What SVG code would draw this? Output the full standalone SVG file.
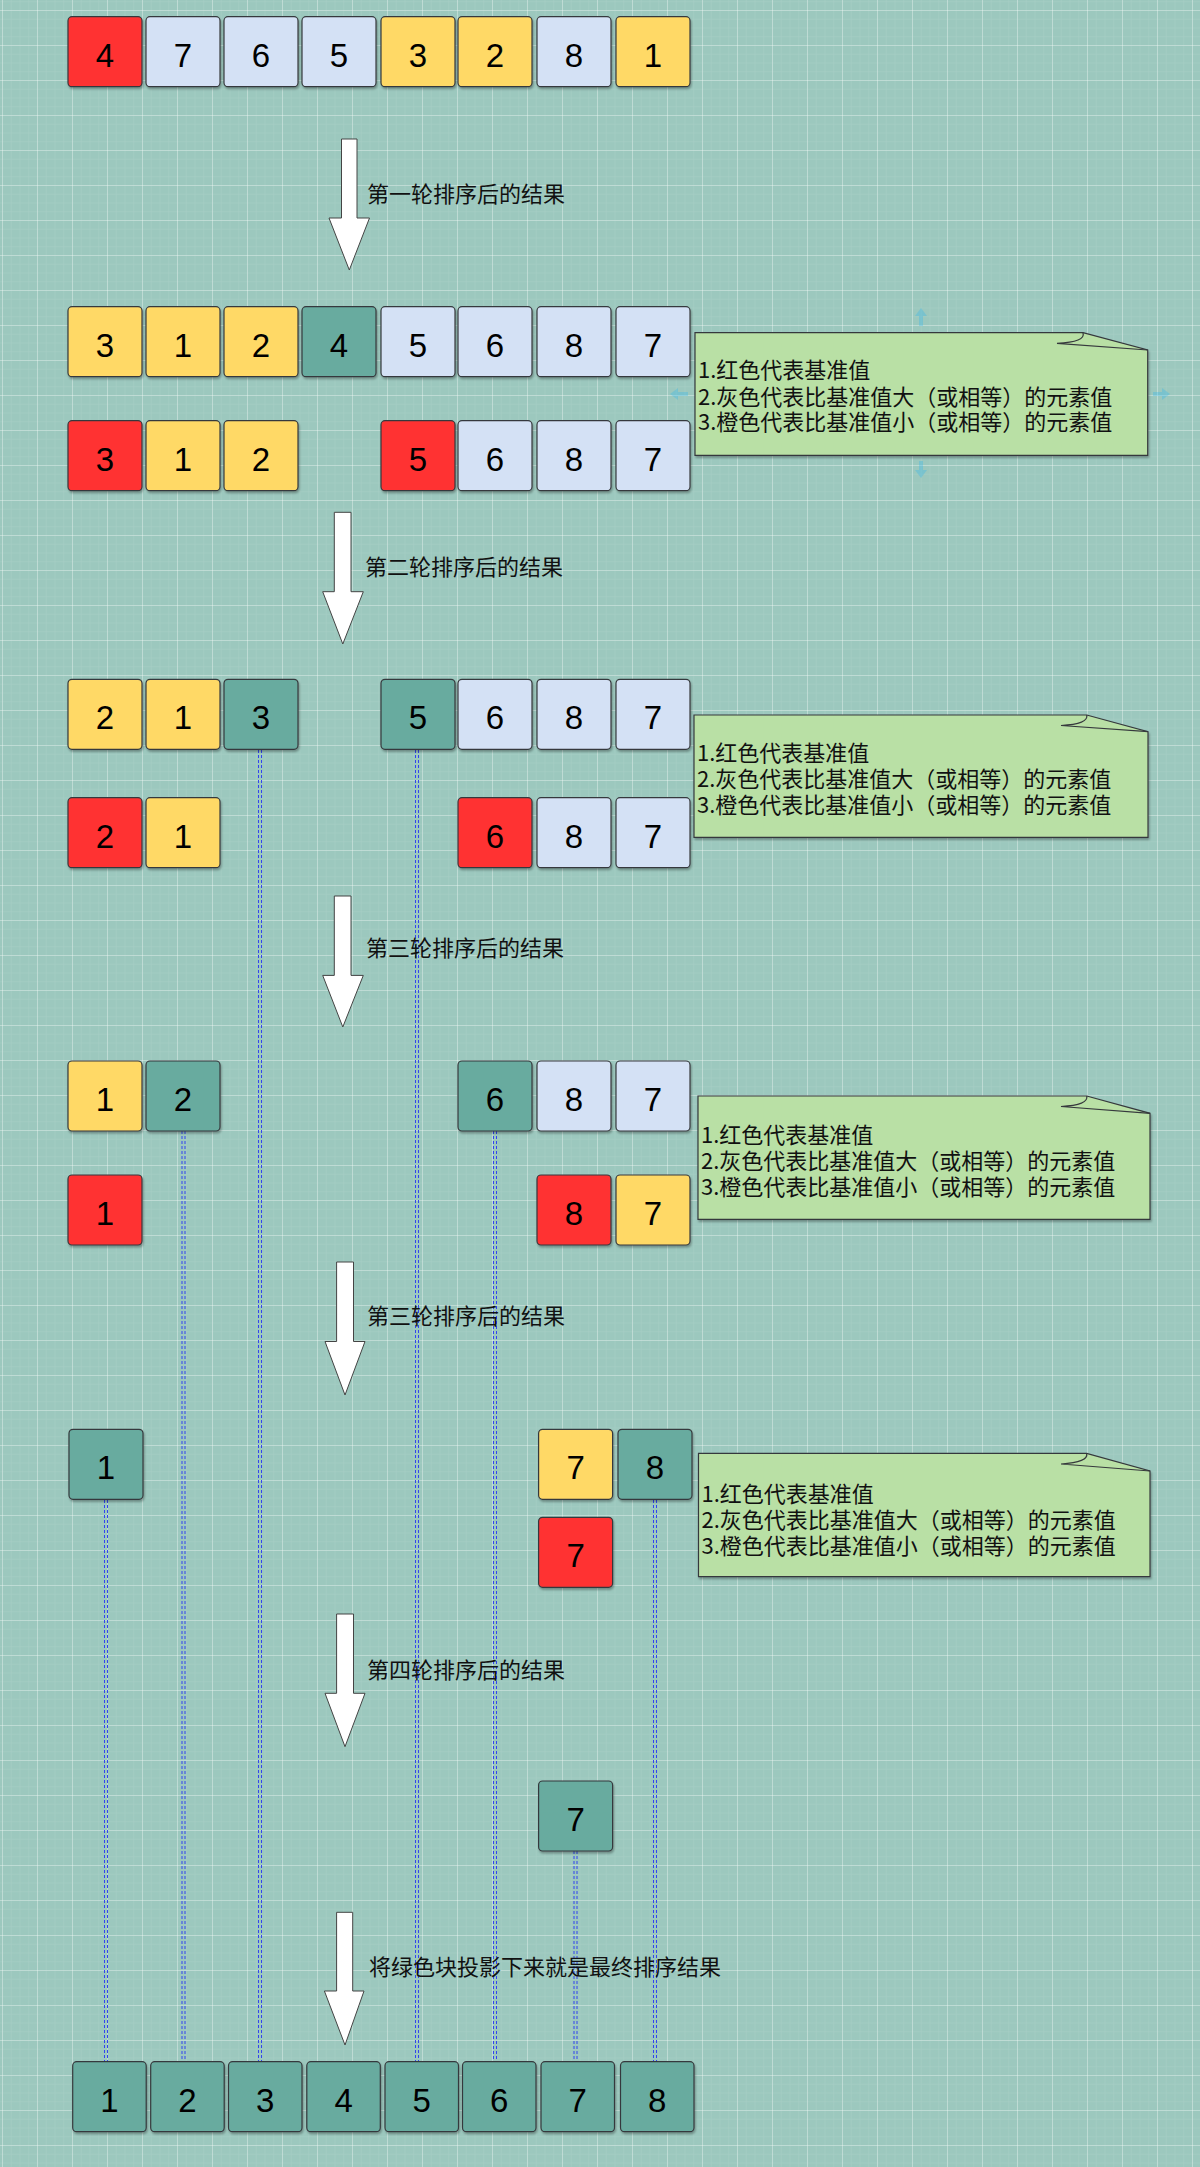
<svg xmlns="http://www.w3.org/2000/svg" width="1200" height="2167" viewBox="0 0 1200 2167">
<defs>
<pattern id="minor" x="2" y="10" width="8.75" height="8.75" patternUnits="userSpaceOnUse">
<path d="M0,0H8.75M0,0V8.75" fill="none" stroke="#ffffff" stroke-opacity="0.12" stroke-width="1"/>
</pattern>
<pattern id="major" x="2" y="10" width="35" height="35" patternUnits="userSpaceOnUse">
<path d="M0,0.5H35M0.5,0V35" fill="none" stroke="#ffffff" stroke-opacity="0.3" stroke-width="1"/>
</pattern>
<filter id="sh" x="-10%" y="-10%" width="130%" height="130%">
<feDropShadow dx="1" dy="2" stdDeviation="1" flood-color="#000" flood-opacity="0.3"/>
</filter>
</defs>
<style>
.bx rect{stroke:#36393d;stroke-width:1.2;filter:url(#sh)}
.r rect{fill:#ff3333}
.b rect{fill:#d4e1f5}
.y rect{fill:#ffd966}
.g rect{fill:#67ab9f}
.bx text{font-family:"Liberation Sans",Arial,sans-serif;font-size:33px;fill:#000;text-anchor:middle}
.lbl{font-family:"Noto Sans CJK SC","Noto Sans",sans-serif;font-size:22px;fill:#111}
.note path.body{fill:#b9e0a5;stroke:#36393d;stroke-width:1.2;filter:url(#sh)}
.note path.curl{fill:none;stroke:#36393d;stroke-width:1.2}
.note text{font-family:"Noto Sans CJK SC","Noto Sans",sans-serif;font-size:22px;fill:#111}
.arrow{fill:#ffffff;stroke:#444;stroke-width:1}
.dl{stroke:#3344ee;stroke-width:1;stroke-dasharray:3 2;fill:none}
.hint{fill:#29b6f2;opacity:0.3}
</style>
<rect width="1200" height="2167" fill="#9cc8be"/>
<rect width="1200" height="2167" fill="url(#minor)"/>
<rect width="1200" height="2167" fill="url(#major)"/>

<g id="connectors">
<path class="dl" d="M104.5,1500V2061.7M107.5,1500V2061.7"/>
<path class="dl" d="M182,1131V2061.7M185,1131V2061.7"/>
<path class="dl" d="M258.5,750V2061.7M261.5,750V2061.7"/>
<path class="dl" d="M415.5,750V2061.7M418.5,750V2061.7"/>
<path class="dl" d="M493.5,1131V2061.7M496.5,1131V2061.7"/>
<path class="dl" d="M574,1851V2061.7M577,1851V2061.7"/>
<path class="dl" d="M653.5,1500V2061.7M656.5,1500V2061.7"/>
</g>

<!-- Row A -->
<g id="a0" class="bx r"><rect x="68" y="16.7" width="74" height="70" rx="4"/><text x="105" y="66.7">4</text></g>
<g id="a1" class="bx b"><rect x="146" y="16.7" width="74" height="70" rx="4"/><text x="183" y="66.7">7</text></g>
<g id="a2" class="bx b"><rect x="224" y="16.7" width="74" height="70" rx="4"/><text x="261" y="66.7">6</text></g>
<g id="a3" class="bx b"><rect x="302" y="16.7" width="74" height="70" rx="4"/><text x="339" y="66.7">5</text></g>
<g id="a4" class="bx y"><rect x="381" y="16.7" width="74" height="70" rx="4"/><text x="418" y="66.7">3</text></g>
<g id="a5" class="bx y"><rect x="458" y="16.7" width="74" height="70" rx="4"/><text x="495" y="66.7">2</text></g>
<g id="a6" class="bx b"><rect x="537" y="16.7" width="74" height="70" rx="4"/><text x="574" y="66.7">8</text></g>
<g id="a7" class="bx y"><rect x="616" y="16.7" width="74" height="70" rx="4"/><text x="653" y="66.7">1</text></g>

<g id="arrow1"><polygon class="arrow" points="341.5,139 357,139 357,218 369.5,218 349.3,270 329,218 341.5,218"/><text class="lbl" x="367" y="202">第一轮排序后的结果</text></g>

<!-- Row B -->
<g id="b0" class="bx y"><rect x="68" y="306.7" width="74" height="70" rx="4"/><text x="105" y="356.7">3</text></g>
<g id="b1" class="bx y"><rect x="146" y="306.7" width="74" height="70" rx="4"/><text x="183" y="356.7">1</text></g>
<g id="b2" class="bx y"><rect x="224" y="306.7" width="74" height="70" rx="4"/><text x="261" y="356.7">2</text></g>
<g id="b3" class="bx g"><rect x="302" y="306.7" width="74" height="70" rx="4"/><text x="339" y="356.7">4</text></g>
<g id="b4" class="bx b"><rect x="381" y="306.7" width="74" height="70" rx="4"/><text x="418" y="356.7">5</text></g>
<g id="b5" class="bx b"><rect x="458" y="306.7" width="74" height="70" rx="4"/><text x="495" y="356.7">6</text></g>
<g id="b6" class="bx b"><rect x="537" y="306.7" width="74" height="70" rx="4"/><text x="574" y="356.7">8</text></g>
<g id="b7" class="bx b"><rect x="616" y="306.7" width="74" height="70" rx="4"/><text x="653" y="356.7">7</text></g>

<!-- Row C -->
<g id="c0" class="bx r"><rect x="68" y="420.7" width="74" height="70" rx="4"/><text x="105" y="470.7">3</text></g>
<g id="c1" class="bx y"><rect x="146" y="420.7" width="74" height="70" rx="4"/><text x="183" y="470.7">1</text></g>
<g id="c2" class="bx y"><rect x="224" y="420.7" width="74" height="70" rx="4"/><text x="261" y="470.7">2</text></g>
<g id="c4" class="bx r"><rect x="381" y="420.7" width="74" height="70" rx="4"/><text x="418" y="470.7">5</text></g>
<g id="c5" class="bx b"><rect x="458" y="420.7" width="74" height="70" rx="4"/><text x="495" y="470.7">6</text></g>
<g id="c6" class="bx b"><rect x="537" y="420.7" width="74" height="70" rx="4"/><text x="574" y="470.7">8</text></g>
<g id="c7" class="bx b"><rect x="616" y="420.7" width="74" height="70" rx="4"/><text x="653" y="470.7">7</text></g>

<g id="note1" class="note">
<path class="body" d="M695,332.7H1083L1147.7,350V455.3H695Z"/>
<path class="curl" d="M1083,332.7Q1086,342 1057,343.3L1147.7,350"/>
<text x="698" y="378">1.红色代表基准值</text>
<text x="698" y="404.5">2.灰色代表比基准值大（或相等）的元素值</text>
<text x="698" y="430">3.橙色代表比基准值小（或相等）的元素值</text>
</g>
<g id="hints">
<path class="hint" d="M919,326V316H915L921,308L927,316H923V326Z"/>
<path class="hint" d="M919,461V470H915L921,478L927,470H923V461Z"/>
<path class="hint" d="M688,392H678V388L670,394L678,400V396H688Z"/>
<path class="hint" d="M1153,392H1162V388L1170,394L1162,400V396H1153Z"/>
</g>

<g id="arrow2"><polygon class="arrow" points="334.3,512.3 351,512.3 351,591.7 363.3,591.7 342.8,644 322.7,591.7 334.3,591.7"/><text class="lbl" x="365" y="575">第二轮排序后的结果</text></g>

<!-- Row D -->
<g id="d0" class="bx y"><rect x="68" y="679.3" width="74" height="70" rx="4"/><text x="105" y="729.3">2</text></g>
<g id="d1" class="bx y"><rect x="146" y="679.3" width="74" height="70" rx="4"/><text x="183" y="729.3">1</text></g>
<g id="d2" class="bx g"><rect x="224" y="679.3" width="74" height="70" rx="4"/><text x="261" y="729.3">3</text></g>
<g id="d4" class="bx g"><rect x="381" y="679.3" width="74" height="70" rx="4"/><text x="418" y="729.3">5</text></g>
<g id="d5" class="bx b"><rect x="458" y="679.3" width="74" height="70" rx="4"/><text x="495" y="729.3">6</text></g>
<g id="d6" class="bx b"><rect x="537" y="679.3" width="74" height="70" rx="4"/><text x="574" y="729.3">8</text></g>
<g id="d7" class="bx b"><rect x="616" y="679.3" width="74" height="70" rx="4"/><text x="653" y="729.3">7</text></g>

<!-- Row E -->
<g id="e0" class="bx r"><rect x="68" y="797.7" width="74" height="70" rx="4"/><text x="105" y="847.7">2</text></g>
<g id="e1" class="bx y"><rect x="146" y="797.7" width="74" height="70" rx="4"/><text x="183" y="847.7">1</text></g>
<g id="e5" class="bx r"><rect x="458" y="797.7" width="74" height="70" rx="4"/><text x="495" y="847.7">6</text></g>
<g id="e6" class="bx b"><rect x="537" y="797.7" width="74" height="70" rx="4"/><text x="574" y="847.7">8</text></g>
<g id="e7" class="bx b"><rect x="616" y="797.7" width="74" height="70" rx="4"/><text x="653" y="847.7">7</text></g>

<g id="note2" class="note">
<path class="body" d="M694,715H1086.7L1148,731.7V837.3H694Z"/>
<path class="curl" d="M1086.7,715Q1089,724 1061,725.5L1148,731.7"/>
<text x="697" y="761">1.红色代表基准值</text>
<text x="697" y="787">2.灰色代表比基准值大（或相等）的元素值</text>
<text x="697" y="813">3.橙色代表比基准值小（或相等）的元素值</text>
</g>

<g id="arrow3"><polygon class="arrow" points="334.3,896 351,896 351,975.4 363.3,975.4 342.8,1027 322.7,975.4 334.3,975.4"/><text class="lbl" x="366" y="956">第三轮排序后的结果</text></g>

<!-- Row F -->
<g id="f0" class="bx y"><rect x="68" y="1061" width="74" height="70" rx="4"/><text x="105" y="1111">1</text></g>
<g id="f1" class="bx g"><rect x="146" y="1061" width="74" height="70" rx="4"/><text x="183" y="1111">2</text></g>
<g id="f5" class="bx g"><rect x="458" y="1061" width="74" height="70" rx="4"/><text x="495" y="1111">6</text></g>
<g id="f6" class="bx b"><rect x="537" y="1061" width="74" height="70" rx="4"/><text x="574" y="1111">8</text></g>
<g id="f7" class="bx b"><rect x="616" y="1061" width="74" height="70" rx="4"/><text x="653" y="1111">7</text></g>

<!-- Row G -->
<g id="g0" class="bx r"><rect x="68" y="1175" width="74" height="70" rx="4"/><text x="105" y="1225">1</text></g>
<g id="g6" class="bx r"><rect x="537" y="1175" width="74" height="70" rx="4"/><text x="574" y="1225">8</text></g>
<g id="g7" class="bx y"><rect x="616" y="1175" width="74" height="70" rx="4"/><text x="653" y="1225">7</text></g>

<g id="note3" class="note">
<path class="body" d="M698,1096H1086.7L1150,1113.3V1219.3H698Z"/>
<path class="curl" d="M1086.7,1096Q1089,1105 1061,1106.5L1150,1113.3"/>
<text x="701" y="1143">1.红色代表基准值</text>
<text x="701" y="1169">2.灰色代表比基准值大（或相等）的元素值</text>
<text x="701" y="1195">3.橙色代表比基准值小（或相等）的元素值</text>
</g>

<g id="arrow4"><polygon class="arrow" points="336.6,1262 353.5,1262 353.5,1341.5 365,1341.5 345,1395 325,1341.5 336.6,1341.5"/><text class="lbl" x="367" y="1324">第三轮排序后的结果</text></g>

<!-- Row H -->
<g id="h0" class="bx g"><rect x="69" y="1429.3" width="74" height="70" rx="4"/><text x="106" y="1479.3">1</text></g>
<g id="h6" class="bx y"><rect x="538.6" y="1429.3" width="74" height="70" rx="4"/><text x="575.6" y="1479.3">7</text></g>
<g id="h7" class="bx g"><rect x="618" y="1429.3" width="74" height="70" rx="4"/><text x="655" y="1479.3">8</text></g>
<!-- Row I -->
<g id="i6" class="bx r"><rect x="538.6" y="1517.3" width="74" height="70" rx="4"/><text x="575.6" y="1567.3">7</text></g>

<g id="note4" class="note">
<path class="body" d="M698.5,1453.3H1086.6L1150,1471V1576.7H698.5Z"/>
<path class="curl" d="M1086.6,1453.3Q1089,1462 1061,1464L1150,1471"/>
<text x="701.5" y="1502">1.红色代表基准值</text>
<text x="701.5" y="1528">2.灰色代表比基准值大（或相等）的元素值</text>
<text x="701.5" y="1554">3.橙色代表比基准值小（或相等）的元素值</text>
</g>

<g id="arrow5"><polygon class="arrow" points="336.6,1614 353.5,1614 353.5,1693.3 365,1693.3 345,1746.7 325,1693.3 336.6,1693.3"/><text class="lbl" x="367" y="1678">第四轮排序后的结果</text></g>

<!-- Row J -->
<g id="j6" class="bx g"><rect x="538.6" y="1781" width="74" height="70" rx="4"/><text x="575.6" y="1831">7</text></g>

<g id="arrow6"><polygon class="arrow" points="336.6,1912.3 352.7,1912.3 352.7,1991 364,1991 345,2045 324.4,1991 336.6,1991"/><text class="lbl" x="369" y="1975">将绿色块投影下来就是最终排序结果</text></g>

<!-- Final row -->
<g id="k0" class="bx g"><rect x="72.7" y="2061.7" width="73.5" height="70" rx="4"/><text x="109.5" y="2111.7">1</text></g>
<g id="k1" class="bx g"><rect x="150.7" y="2061.7" width="73.5" height="70" rx="4"/><text x="187.5" y="2111.7">2</text></g>
<g id="k2" class="bx g"><rect x="228.5" y="2061.7" width="73.5" height="70" rx="4"/><text x="265.3" y="2111.7">3</text></g>
<g id="k3" class="bx g"><rect x="306.8" y="2061.7" width="73.5" height="70" rx="4"/><text x="343.6" y="2111.7">4</text></g>
<g id="k4" class="bx g"><rect x="385" y="2061.7" width="73.5" height="70" rx="4"/><text x="421.8" y="2111.7">5</text></g>
<g id="k5" class="bx g"><rect x="462.5" y="2061.7" width="73.5" height="70" rx="4"/><text x="499.3" y="2111.7">6</text></g>
<g id="k6" class="bx g"><rect x="541" y="2061.7" width="73.5" height="70" rx="4"/><text x="577.8" y="2111.7">7</text></g>
<g id="k7" class="bx g"><rect x="620.5" y="2061.7" width="73.5" height="70" rx="4"/><text x="657.3" y="2111.7">8</text></g>
</svg>
